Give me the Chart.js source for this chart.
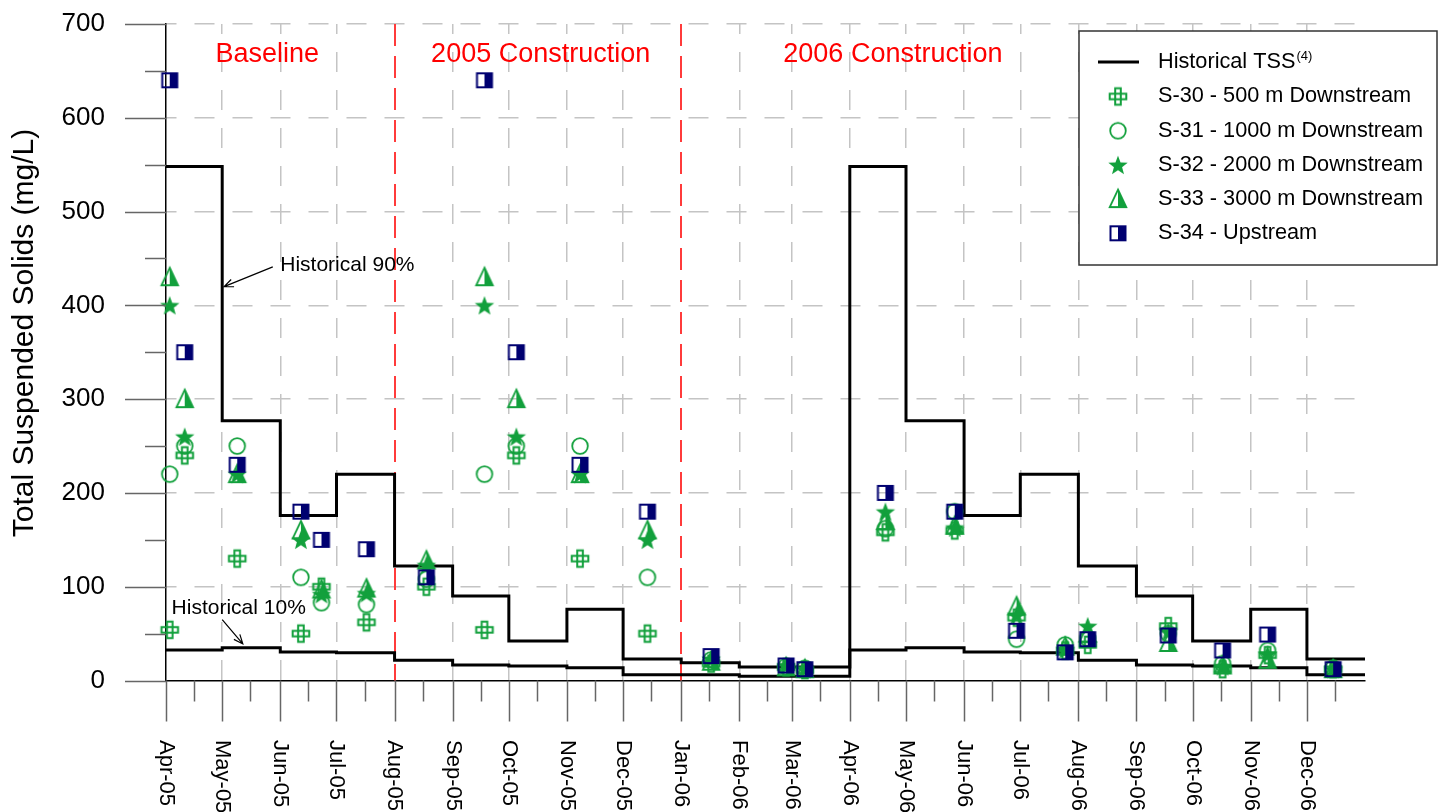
<!DOCTYPE html>
<html>
<head>
<meta charset="utf-8">
<script src="https://cdn.jsdelivr.net/npm/chart.js@4.4.0/dist/chart.umd.min.js"></script>
<style>
  html, body { margin: 0; padding: 0; background: #fff; }
</style>
</head>
<body>
<canvas id="tssChart" width="1450" height="812"></canvas>
<script>
// ---- data (x = calendar dates, y = mg/L) ----
const monthLabels = ["Apr-05", "May-05", "Jun-05", "Jul-05", "Aug-05", "Sep-05", "Oct-05", "Nov-05", "Dec-05",
  "Jan-06", "Feb-06", "Mar-06", "Apr-06", "May-06", "Jun-06", "Jul-06", "Aug-06", "Sep-06", "Oct-06", "Nov-06", "Dec-06"];
const monthStarts = ["2005-04-01", "2005-05-01", "2005-06-01", "2005-07-01", "2005-08-01", "2005-09-01", "2005-10-01",
  "2005-11-01", "2005-12-01", "2006-01-01", "2006-02-01", "2006-03-01", "2006-04-01", "2006-05-01", "2006-06-01",
  "2006-07-01", "2006-08-01", "2006-09-01", "2006-10-01", "2006-11-01", "2006-12-01", "2007-01-01"];
const phaseBreaks = ["2005-08-01", "2006-01-01"];

// monthly historical TSS envelope (one value per month, Apr-05 .. Dec-06)
const hist90 = [548, 277, 176, 220, 122, 90, 42, 76, 23, 19, 14.5, 14.5, 548, 277, 176, 220, 122, 90, 42, 76, 23];
const hist10 = [32.5, 35, 30.5, 29.5, 21.5, 16.5, 15.5, 13.5, 6, 6, 4.5, 4.5, 32.5, 35, 30.5, 29.5, 21.5, 16.5, 15.5, 13.5, 6];

const sampleDates = ["2005-04-03", "2005-04-11", "2005-05-09", "2005-06-12", "2005-06-23", "2005-07-17", "2005-08-18",
  "2005-09-18", "2005-10-05", "2005-11-08", "2005-12-14", "2006-01-17", "2006-02-26", "2006-03-08", "2006-04-20",
  "2006-05-27", "2006-06-29", "2006-07-25", "2006-08-06", "2006-09-18", "2006-10-17", "2006-11-10", "2006-12-15"];
const s30 = [54, 240, 130, 50, 100, 62, 100, 54, 240, 130, 50, 18, 14, 11, 158, 160, 67, 32, 38, 58, 12, 27, 12];
const s31 = [220, 250, 250, 110, 83, 81, 108, 220, 250, 250, 110, 22, 15, 13, 162, 180, 44, 38, 45, 50, 18, 32, 13];
const s32 = [400, 260, 220, 150, 92, 93, 123, 400, 260, 220, 150, 23, 16, 12, 180, 163, 70, 33, 58, 52, 15, 28, 12];
const s33 = [430, 300, 220, 160, 97, 98, 128, 430, 300, 220, 160, 20, 14, 12, 170, 165, 79, 36, 50, 40, 16, 22, 12];
const s34 = [640, 350, 230, 180, 150, 140, 110, 640, 350, 230, 180, 26, 16, 12, 200, 180, 53, 30, 44, 48, 32, 49, 12];

const GREEN = "#12a03c";
const NAVY = "#000070";
const FONT = '"Liberation Sans", Arial, Helvetica, sans-serif';

// days since 1 Apr 2005
const START = Date.UTC(2005, 3, 1);
function day(s) {
  const p = s.split("-");
  return (Date.UTC(+p[0], +p[1] - 1, +p[2]) - START) / 86400000;
}

function stepPoints(vals) {
  // last month value repeated at the end of the axis so the step closes
  return monthStarts.map((d, i) => ({ x: day(d), y: vals[Math.min(i, vals.length - 1)] }));
}
function samplePoints(vals) {
  return sampleDates.map((d, i) => ({ x: day(d), y: vals[i] }));
}

// ---- marker glyphs ----
function marker(kind) {
  const c = document.createElement("canvas");
  c.width = 24; c.height = 24;
  const g = c.getContext("2d");
  g.translate(12, 12);
  g.lineWidth = 2;
  g.strokeStyle = GREEN;
  g.fillStyle = GREEN;
  if (kind === "plus") {
    const a = 2.8, b = 8.3;
    g.beginPath();
    g.moveTo(-a, -b); g.lineTo(a, -b); g.lineTo(a, -a); g.lineTo(b, -a); g.lineTo(b, a); g.lineTo(a, a);
    g.lineTo(a, b); g.lineTo(-a, b); g.lineTo(-a, a); g.lineTo(-b, a); g.lineTo(-b, -a); g.lineTo(-a, -a);
    g.closePath(); g.stroke();
    g.strokeRect(-a, -a, 2 * a, 2 * a);
  } else if (kind === "circle") {
    g.lineWidth = 1.8;
    g.beginPath(); g.arc(0, 0, 7.8, 0, Math.PI * 2); g.stroke();
  } else if (kind === "star") {
    g.beginPath();
    for (let i = 0; i < 10; i++) {
      const r = i % 2 ? 4.3 : 10.2;
      const ang = -Math.PI / 2 + i * Math.PI / 5;
      g.lineTo(r * Math.cos(ang), r * Math.sin(ang) + 1);
    }
    g.closePath(); g.fill();
  } else if (kind === "tri") {
    g.beginPath(); g.moveTo(0, -9.5); g.lineTo(8.3, 8); g.lineTo(0, 8); g.closePath(); g.fill();
    g.lineWidth = 1.8;
    g.beginPath(); g.moveTo(0, -9.5); g.lineTo(8.3, 8); g.lineTo(-8.3, 8); g.closePath(); g.stroke();
  } else if (kind === "half") {
    g.strokeStyle = NAVY; g.fillStyle = NAVY;
    g.fillRect(0, -7, 7.5, 14);
    g.strokeRect(-7.5, -7, 15, 14);
  }
  return c;
}
const glyphs = { s30: marker("plus"), s31: marker("circle"), s32: marker("star"), s33: marker("tri"), s34: marker("half") };

const legendItems = [
  { text: "S-30 - 500 m Downstream", glyph: glyphs.s30 },
  { text: "S-31 - 1000 m Downstream", glyph: glyphs.s31 },
  { text: "S-32 - 2000 m Downstream", glyph: glyphs.s32 },
  { text: "S-33 - 3000 m Downstream", glyph: glyphs.s33 },
  { text: "S-34 - Upstream", glyph: glyphs.s34 }
];

function arrow(ctx, x1, y1, x2, y2) {
  const ang = Math.atan2(y2 - y1, x2 - x1);
  ctx.beginPath();
  ctx.moveTo(x1, y1); ctx.lineTo(x2, y2);
  ctx.moveTo(x2 - 10 * Math.cos(ang - 0.4), y2 - 10 * Math.sin(ang - 0.4));
  ctx.lineTo(x2, y2);
  ctx.lineTo(x2 - 10 * Math.cos(ang + 0.4), y2 - 10 * Math.sin(ang + 0.4));
  ctx.stroke();
}

const decor = {
  id: "decor",
  beforeDatasetsDraw(chart) {
    const { ctx, chartArea: a, scales: { x } } = chart;
    ctx.save();
    ctx.strokeStyle = "#ff3b3b";
    ctx.lineWidth = 2;
    ctx.setLineDash([22, 10]);
    phaseBreaks.forEach(d => {
      const px = Math.round(x.getPixelForValue(day(d)));
      ctx.beginPath(); ctx.moveTo(px, a.top); ctx.lineTo(px, a.bottom); ctx.stroke();
    });
    ctx.restore();
  },
  afterDatasetsDraw(chart) {
    const { ctx, scales: { x, y } } = chart;
    ctx.save();
    // phase titles
    ctx.fillStyle = "#ff0000";
    ctx.font = "27px " + FONT;
    ctx.textAlign = "center";
    ctx.textBaseline = "middle";
    ctx.fillText("Baseline", x.getPixelForValue(day("2005-05-25")), y.getPixelForValue(667));
    ctx.fillText("2005 Construction", x.getPixelForValue(day("2005-10-18")), y.getPixelForValue(667));
    ctx.fillText("2006 Construction", x.getPixelForValue(day("2006-04-24")), y.getPixelForValue(667));

    // envelope call-outs
    ctx.fillStyle = "#000";
    ctx.strokeStyle = "#000";
    ctx.lineWidth = 1.2;
    ctx.font = "21px " + FONT;
    ctx.textAlign = "left";
    ctx.fillText("Historical 90%", x.getPixelForValue(day("2005-06-01")), y.getPixelForValue(443));
    arrow(ctx, x.getPixelForValue(day("2005-05-28")), y.getPixelForValue(441),
      x.getPixelForValue(day("2005-05-02")), y.getPixelForValue(420));
    ctx.fillText("Historical 10%", x.getPixelForValue(day("2005-04-04")), y.getPixelForValue(77));
    arrow(ctx, x.getPixelForValue(day("2005-05-01")), y.getPixelForValue(65),
      x.getPixelForValue(day("2005-05-12")), y.getPixelForValue(39));

    // legend box
    const L = 1079, T = 31, W = 358, H = 234;
    ctx.fillStyle = "#fff";
    ctx.fillRect(L, T, W, H);
    ctx.strokeStyle = "#333";
    ctx.lineWidth = 1.5;
    ctx.strokeRect(L, T, W, H);
    ctx.fillStyle = "#000";
    ctx.font = "21.7px " + FONT;
    ctx.textBaseline = "middle";
    ctx.strokeStyle = "#000";
    ctx.lineWidth = 3;
    ctx.beginPath(); ctx.moveTo(1098, 62); ctx.lineTo(1139, 62); ctx.stroke();
    ctx.fillText("Historical TSS", 1158, 62);
    const w = ctx.measureText("Historical TSS").width;
    ctx.font = "13px " + FONT;
    ctx.fillText("(4)", 1158 + w + 1, 56);
    ctx.font = "21.7px " + FONT;
    legendItems.forEach((it, i) => {
      const ry = 96.5 + i * 34.2;
      ctx.drawImage(it.glyph, 1118 - 12, ry - 12);
      ctx.fillText(it.text, 1158, ry);
    });
    ctx.restore();
  },
  afterDraw(chart) {
    const { ctx, chartArea: a, scales: { x, y } } = chart;
    ctx.save();
    ctx.strokeStyle = "#666";
    ctx.lineWidth = 1.5;
    // x ticks: month starts (long) and mid-month (short)
    monthStarts.slice(0, monthLabels.length).forEach((d, i) => {
      const px = Math.round(x.getPixelForValue(day(d))) + 0.5;
      ctx.beginPath(); ctx.moveTo(px, a.bottom); ctx.lineTo(px, a.bottom + 41); ctx.stroke();
      const mid = d.slice(0, 8) + "16";
      const pm = Math.round(x.getPixelForValue(day(mid))) + 0.5;
      ctx.beginPath(); ctx.moveTo(pm, a.bottom); ctx.lineTo(pm, a.bottom + 21); ctx.stroke();
    });
    // y ticks
    for (let v = 0; v <= 700; v += 50) {
      const py = Math.round(y.getPixelForValue(v)) + 0.5;
      ctx.beginPath(); ctx.moveTo(a.left - (v % 100 === 0 ? 41 : 21), py); ctx.lineTo(a.left, py); ctx.stroke();
    }
    // rotated month labels (read top to bottom)
    ctx.fillStyle = "#000";
    ctx.font = "22px " + FONT;
    ctx.textAlign = "left";
    ctx.textBaseline = "middle";
    monthLabels.forEach((lab, i) => {
      const px = x.getPixelForValue(day(monthStarts[i]));
      ctx.save();
      ctx.translate(px, 740);
      ctx.rotate(Math.PI / 2);
      ctx.fillText(lab, 0, 0);
      ctx.restore();
    });
    // y title
    ctx.font = "30px " + FONT;
    ctx.textAlign = "center";
    ctx.translate(25, 333);
    ctx.rotate(-Math.PI / 2);
    ctx.fillText("Total Suspended Solids (mg/L)", 0, 0);
    ctx.restore();
  }
};

Chart.defaults.font.family = FONT;

const scatterSet = (label, vals, glyph, order) => ({
  type: "scatter",
  label: label,
  data: samplePoints(vals),
  pointStyle: glyph,
  pointRadius: 8,
  showLine: false,
  clip: false,
  order: order
});

new Chart(document.getElementById("tssChart"), {
  type: "scatter",
  data: {
    datasets: [
      scatterSet("S-34 - Upstream", s34, glyphs.s34, 1),
      scatterSet("S-33 - 3000 m Downstream", s33, glyphs.s33, 2),
      scatterSet("S-32 - 2000 m Downstream", s32, glyphs.s32, 3),
      scatterSet("S-31 - 1000 m Downstream", s31, glyphs.s31, 4),
      scatterSet("S-30 - 500 m Downstream", s30, glyphs.s30, 5),
      {
        type: "line", label: "Historical 90%", data: stepPoints(hist90), stepped: true,
        borderColor: "#000", borderWidth: 3, pointRadius: 0, fill: false, order: 6
      },
      {
        type: "line", label: "Historical 10%", data: stepPoints(hist10), stepped: true,
        borderColor: "#000", borderWidth: 3, pointRadius: 0, fill: false, order: 7
      }
    ]
  },
  options: {
    responsive: false,
    devicePixelRatio: 1,
    animation: false,
    layout: { padding: { left: 0, right: 85, top: 24, bottom: 0 } },
    plugins: { legend: { display: false }, tooltip: { enabled: false } },
    scales: {
      x: {
        type: "linear",
        min: day(monthStarts[0]),
        max: day(monthStarts[monthStarts.length - 1]),
        afterBuildTicks: s => { s.ticks = monthStarts.map(d => ({ value: day(d) })); },
        afterFit: s => { s.height = 131.5; },
        ticks: { display: false },
        grid: {
          drawTicks: false,
          lineWidth: 1.5,
          color: c => {
            const i = c.index;
            if (i === 0 || i === monthStarts.length - 1) return "rgba(0,0,0,0)";
            if (phaseBreaks.includes(monthStarts[i])) return "rgba(0,0,0,0)";
            return "#c4c4c4";
          }
        },
        border: { display: true, color: "#000", width: 1.5, dash: [20, 18], dashOffset: 10 }
      },
      y: {
        min: 0,
        max: 700,
        afterFit: s => { s.width = 166; },
        ticks: {
          stepSize: 50,
          padding: 3,
          color: "#000",
          font: { size: 26 },
          callback: v => (v % 100 === 0 ? v : "")
        },
        grid: {
          drawTicks: true,
          tickLength: 58,
          tickColor: "rgba(0,0,0,0)",
          lineWidth: 1.5,
          color: c => (c.tick && c.tick.value % 100 === 0 && c.tick.value > 0 ? "#c4c4c4" : "rgba(0,0,0,0)")
        },
        border: { display: true, color: "#000", width: 1.5, dash: [20, 18], dashOffset: 10 }
      }
    }
  },
  plugins: [decor]
});
</script>
</body>
</html>
